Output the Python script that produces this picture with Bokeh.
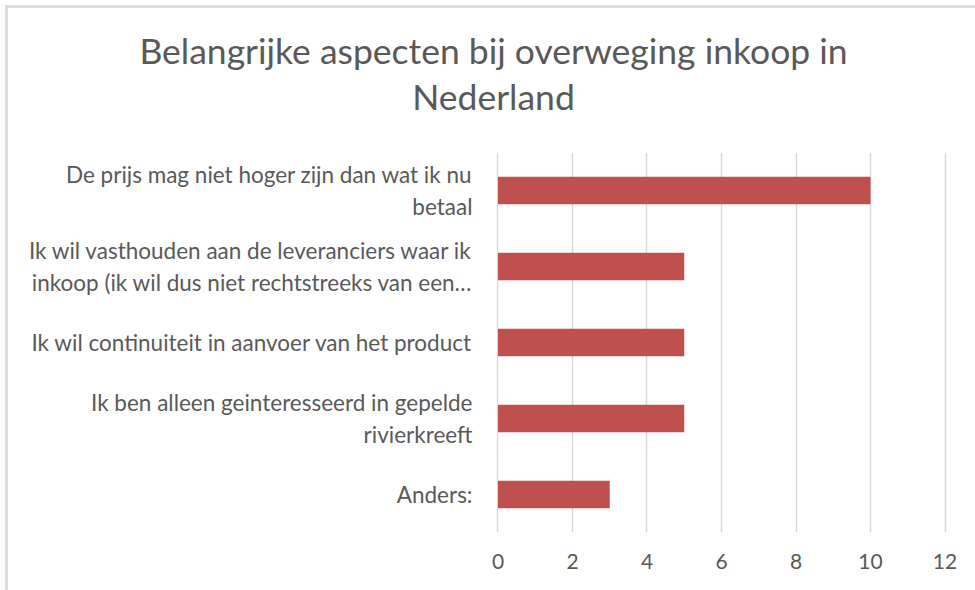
from bokeh.plotting import figure
from bokeh.models import FactorRange, Range1d, FixedTicker, Div
from bokeh.layouts import column
from bokeh.embed import file_html
from bokeh.resources import INLINE

title_lines = ["Belangrijke aspecten bij overweging inkoop in", "Nederland"]
categories = [
    "De prijs mag niet hoger zijn dan wat ik nu\nbetaal",
    "Ik wil vasthouden aan de leveranciers waar ik\ninkoop (ik wil dus niet rechtstreeks van een…",
    "Ik wil continuiteit in aanvoer van het product",
    "Ik ben alleen geinteresseerd in gepelde\nrivierkreeft",
    "Anders:",
]
values = [10, 5, 5, 5, 3]
x_ticks = [0, 2, 4, 6, 8, 10, 12]

FONT = "Lato"
GREY = "#595959"
W = 967

title_html = (
    '<div style="box-sizing:border-box;width:%dpx;padding-left:4px;padding-top:20px;'
    'text-align:center;font-family:Lato;font-size:35.5px;line-height:46px;color:%s;'
    'white-space:nowrap;">%s</div>' % (W, GREY, "<br>".join(title_lines))
)
header = Div(text=title_html, width=W, height=144, margin=0)

p = figure(
    width=W, height=438,
    y_range=FactorRange(factors=list(reversed(categories))),
    x_range=Range1d(-0.04, 12.04),
    output_backend="svg", toolbar_location=None,
    min_border_left=488, min_border_right=29, min_border_top=0, min_border_bottom=58,
    margin=0,
)
p.title.visible = False

p.hbar(y=categories, left=0, right=values, height=0.36, fill_color="#C0504D", line_color=None)

p.outline_line_color = None
p.ygrid.grid_line_color = None
p.xgrid.grid_line_color = "#D9D9D9"
p.xgrid.grid_line_width = 1.5
p.xaxis.ticker = FixedTicker(ticks=x_ticks)

for ax in (p.xaxis[0], p.yaxis[0]):
    ax.axis_line_color = None
    ax.major_tick_line_color = None
    ax.minor_tick_line_color = None
    ax.major_label_text_color = GREY
    ax.major_label_text_font = FONT
p.xaxis.major_label_text_font_size = "21px"
p.xaxis.major_label_standoff = 15
p.yaxis.major_label_text_font_size = "22.5px"
p.yaxis.major_label_standoff = 18

layout = column(header, p, spacing=0,
                styles={"margin-left": "5px", "margin-top": "5px",
                        "border-left": "3px solid #DDDDDD", "border-top": "3px solid #DDDDDD"})

open("out.html", "w").write(file_html(layout, INLINE))
